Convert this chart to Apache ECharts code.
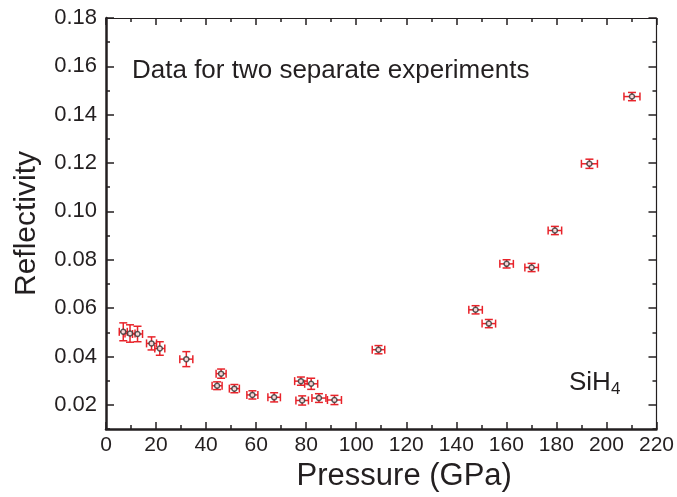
<!DOCTYPE html>
<html>
<head>
<meta charset="utf-8">
<script src="https://cdn.jsdelivr.net/npm/echarts@6/dist/echarts.min.js"></script>
<style>
  html, body { margin: 0; padding: 0; background: #fff; }
  #chart { width: 677px; height: 497px; }
</style>
</head>
<body>
<div id="chart"></div>
<script>
// pressure (GPa) and reflectivity with their error half-widths
const pressure = [6.9, 9.6, 12.6, 18.2, 21.5, 32.1, 46.0, 44.4, 51.3, 58.5, 67.2, 77.9, 82.0, 78.4, 85.1, 91.3, 108.9, 147.7, 153.0, 160.1, 170.1, 179.4, 193.2, 210.2]
const reflectivity = [0.0502, 0.0495, 0.0493, 0.0454, 0.0433, 0.0389, 0.0329, 0.0279, 0.0267, 0.0241, 0.0231, 0.0298, 0.0287, 0.0218, 0.0228, 0.0220, 0.0428, 0.0593, 0.0536, 0.0783, 0.0768, 0.0921, 0.1197, 0.1475]
const pressureErr = [1.6, 2.0, 2.0, 2.0, 2.0, 2.6, 2.0, 2.0, 2.0, 2.2, 2.5, 2.5, 2.6, 2.5, 2.8, 2.8, 2.5, 2.7, 2.7, 2.7, 2.7, 2.7, 3.2, 3.2]
const reflectivityErr = [0.0037, 0.0036, 0.0032, 0.0027, 0.0028, 0.0031, 0.0019, 0.0016, 0.0017, 0.0017, 0.0019, 0.0017, 0.0023, 0.0019, 0.0018, 0.0019, 0.0017, 0.0017, 0.0017, 0.0017, 0.0017, 0.0017, 0.0019, 0.0017]
const yMajorTicks = [0.02, 0.04, 0.06, 0.08, 0.10, 0.12, 0.14, 0.16, 0.18]
const yMinorTicks = [0.01, 0.03, 0.05, 0.07, 0.09, 0.11, 0.13, 0.15, 0.17]

const ink = '#231f20'
const red = '#e8232a'
const font = 'Liberation Sans, Arial, Helvetica, sans-serif'

const points = pressure.map((p, i) => [p, reflectivity[i], pressureErr[i], reflectivityErr[i]])

const baseX = {
  type: 'value', min: 0, max: 220, interval: 20,
  splitLine: { show: false },
  axisTick: { inside: true, length: 7, lineStyle: { color: ink, width: 1.5 } },
  minorTick: { show: true, splitNumber: 2, length: 4, lineStyle: { color: ink, width: 1.5 } }
}
const baseY = {
  type: 'value', min: 0.01, max: 0.18,
  splitLine: { show: false }
}

const option = {
  animation: false,
  grid: { left: 106, right: 20, top: 18, bottom: 68, containLabel: false },
  xAxis: [
    Object.assign({}, baseX, {
      position: 'bottom',
      axisLine: { onZero: false, lineStyle: { color: ink, width: 2.5 } },
      axisLabel: { color: ink, fontSize: 21, fontFamily: font, margin: 6 },
      name: 'Pressure (GPa)', nameLocation: 'middle', nameGap: 31,
      nameTextStyle: { color: ink, fontSize: 31, fontFamily: font, padding: [0, 0, 0, 46] }
    }),
    Object.assign({}, baseX, {
      position: 'top',
      axisLine: { onZero: false, lineStyle: { color: ink, width: 1.2 } },
      axisLabel: { show: false }
    })
  ],
  yAxis: [
    Object.assign({}, baseY, {
      position: 'left',
      axisLine: { onZero: false, lineStyle: { color: ink, width: 2.5 } },
      axisTick: { inside: true, length: 8, customValues: yMajorTicks, lineStyle: { color: ink, width: 1.5 } },
      axisLabel: { customValues: yMajorTicks, color: ink, fontSize: 22, fontFamily: font, margin: 9,
        formatter: v => v.toFixed(2) },
      name: 'Reflectivity', nameLocation: 'middle', nameGap: 64,
      nameTextStyle: { color: ink, fontSize: 30, fontFamily: font }
    }),
    Object.assign({}, baseY, {
      position: 'right',
      axisLine: { onZero: false, lineStyle: { color: ink, width: 1.2 } },
      axisTick: { inside: true, length: 8, customValues: yMajorTicks, lineStyle: { color: ink, width: 1.5 } },
      axisLabel: { show: false }
    }),
    Object.assign({}, baseY, {
      position: 'left',
      axisLine: { show: false, onZero: false },
      axisTick: { inside: true, length: 4, customValues: yMinorTicks, lineStyle: { color: ink, width: 1.5 } },
      axisLabel: { show: false }
    }),
    Object.assign({}, baseY, {
      position: 'right',
      axisLine: { show: false, onZero: false },
      axisTick: { inside: true, length: 4, customValues: yMinorTicks, lineStyle: { color: ink, width: 1.5 } },
      axisLabel: { show: false }
    })
  ],
  graphic: [
    {
      type: 'text', left: 132, top: 58,
      style: { text: 'Data for two separate experiments', fill: ink, font: '26px ' + font }
    },
    {
      type: 'text', left: 569, top: 370,
      style: {
        text: '{a|SiH}{b|4}', fill: ink,
        rich: {
          a: { fontSize: 26, fontFamily: font, fill: ink },
          b: { fontSize: 17, fontFamily: font, fill: ink, padding: [12, 0, 0, 0] }
        }
      }
    }
  ],
  series: [
    {
      type: 'custom',
      xAxisIndex: 0, yAxisIndex: 0,
      data: points,
      renderItem: (params, api) => {
        const x = api.value(0), y = api.value(1), dx = api.value(2), dy = api.value(3)
        const l = api.coord([x - dx, y]), r = api.coord([x + dx, y])
        const t = api.coord([x, y + dy]), b = api.coord([x, y - dy])
        const cap = 4
        const style = { stroke: red, lineWidth: 1.5 }
        const line = (x1, y1, x2, y2) => ({ type: 'line', shape: { x1, y1, x2, y2 }, style })
        return {
          type: 'group',
          children: [
            line(l[0], l[1], r[0], r[1]),
            line(l[0], l[1] - cap, l[0], l[1] + cap),
            line(r[0], r[1] - cap, r[0], r[1] + cap),
            line(t[0], t[1], b[0], b[1]),
            line(t[0] - cap, t[1], t[0] + cap, t[1]),
            line(b[0] - cap, b[1], b[0] + cap, b[1])
          ]
        }
      },
      z: 2
    },
    {
      type: 'scatter',
      xAxisIndex: 0, yAxisIndex: 0,
      data: points.map(d => [d[0], d[1]]),
      symbol: 'circle', symbolSize: 5,
      itemStyle: { color: '#fff', borderColor: '#333', borderWidth: 1.5 },
      z: 3
    }
  ]
}

const chart = echarts.init(document.getElementById('chart'))
chart.setOption(option)
</script>
</body>
</html>
